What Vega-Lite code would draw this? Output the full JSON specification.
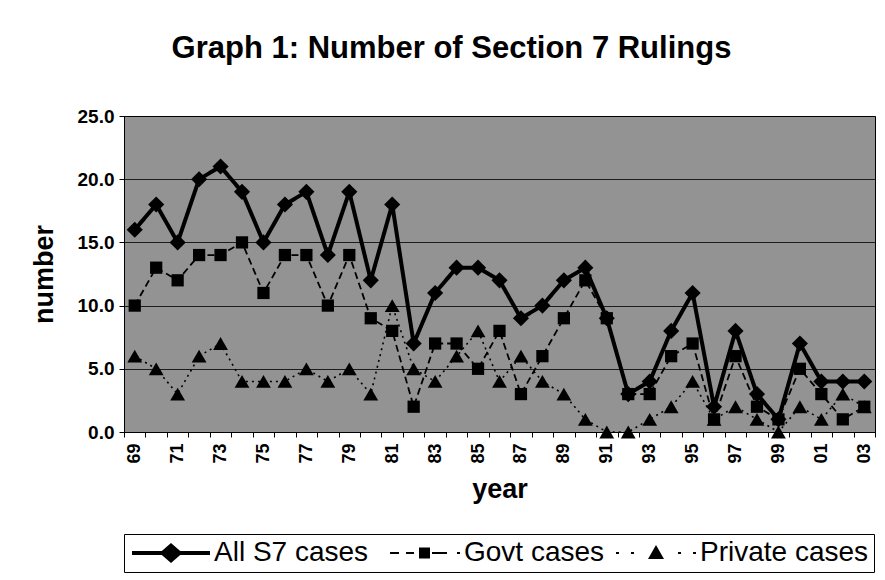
{
  "$schema": "https://vega.github.io/schema/vega-lite/v6.json",
  "width": 751,
  "height": 316,
  "autosize": {"type": "none"},
  "padding": {"left": 124, "top": 116, "right": 10, "bottom": 148},
  "background": "white",
  "title": {
    "text": "Graph 1: Number of Section 7 Rulings",
    "font": "Liberation Sans",
    "fontSize": 31,
    "fontWeight": "bold",
    "color": "black",
    "frame": "group",
    "anchor": "middle",
    "dx": -48,
    "offset": 42
  },
  "config": {
    "view": {"fill": "#939393", "stroke": "black", "strokeWidth": 1},
    "font": "Liberation Sans"
  },
  "data": {
    "values": [
      {"year": "69", "series": "All S7 cases", "value": 16},
      {"year": "70", "series": "All S7 cases", "value": 18},
      {"year": "71", "series": "All S7 cases", "value": 15},
      {"year": "72", "series": "All S7 cases", "value": 20},
      {"year": "73", "series": "All S7 cases", "value": 21},
      {"year": "74", "series": "All S7 cases", "value": 19},
      {"year": "75", "series": "All S7 cases", "value": 15},
      {"year": "76", "series": "All S7 cases", "value": 18},
      {"year": "77", "series": "All S7 cases", "value": 19},
      {"year": "78", "series": "All S7 cases", "value": 14},
      {"year": "79", "series": "All S7 cases", "value": 19},
      {"year": "80", "series": "All S7 cases", "value": 12},
      {"year": "81", "series": "All S7 cases", "value": 18},
      {"year": "82", "series": "All S7 cases", "value": 7},
      {"year": "83", "series": "All S7 cases", "value": 11},
      {"year": "84", "series": "All S7 cases", "value": 13},
      {"year": "85", "series": "All S7 cases", "value": 13},
      {"year": "86", "series": "All S7 cases", "value": 12},
      {"year": "87", "series": "All S7 cases", "value": 9},
      {"year": "88", "series": "All S7 cases", "value": 10},
      {"year": "89", "series": "All S7 cases", "value": 12},
      {"year": "90", "series": "All S7 cases", "value": 13},
      {"year": "91", "series": "All S7 cases", "value": 9},
      {"year": "92", "series": "All S7 cases", "value": 3},
      {"year": "93", "series": "All S7 cases", "value": 4},
      {"year": "94", "series": "All S7 cases", "value": 8},
      {"year": "95", "series": "All S7 cases", "value": 11},
      {"year": "96", "series": "All S7 cases", "value": 2},
      {"year": "97", "series": "All S7 cases", "value": 8},
      {"year": "98", "series": "All S7 cases", "value": 3},
      {"year": "99", "series": "All S7 cases", "value": 1},
      {"year": "00", "series": "All S7 cases", "value": 7},
      {"year": "01", "series": "All S7 cases", "value": 4},
      {"year": "02", "series": "All S7 cases", "value": 4},
      {"year": "03", "series": "All S7 cases", "value": 4},
      {"year": "69", "series": "Govt cases", "value": 10},
      {"year": "70", "series": "Govt cases", "value": 13},
      {"year": "71", "series": "Govt cases", "value": 12},
      {"year": "72", "series": "Govt cases", "value": 14},
      {"year": "73", "series": "Govt cases", "value": 14},
      {"year": "74", "series": "Govt cases", "value": 15},
      {"year": "75", "series": "Govt cases", "value": 11},
      {"year": "76", "series": "Govt cases", "value": 14},
      {"year": "77", "series": "Govt cases", "value": 14},
      {"year": "78", "series": "Govt cases", "value": 10},
      {"year": "79", "series": "Govt cases", "value": 14},
      {"year": "80", "series": "Govt cases", "value": 9},
      {"year": "81", "series": "Govt cases", "value": 8},
      {"year": "82", "series": "Govt cases", "value": 2},
      {"year": "83", "series": "Govt cases", "value": 7},
      {"year": "84", "series": "Govt cases", "value": 7},
      {"year": "85", "series": "Govt cases", "value": 5},
      {"year": "86", "series": "Govt cases", "value": 8},
      {"year": "87", "series": "Govt cases", "value": 3},
      {"year": "88", "series": "Govt cases", "value": 6},
      {"year": "89", "series": "Govt cases", "value": 9},
      {"year": "90", "series": "Govt cases", "value": 12},
      {"year": "91", "series": "Govt cases", "value": 9},
      {"year": "92", "series": "Govt cases", "value": 3},
      {"year": "93", "series": "Govt cases", "value": 3},
      {"year": "94", "series": "Govt cases", "value": 6},
      {"year": "95", "series": "Govt cases", "value": 7},
      {"year": "96", "series": "Govt cases", "value": 1},
      {"year": "97", "series": "Govt cases", "value": 6},
      {"year": "98", "series": "Govt cases", "value": 2},
      {"year": "99", "series": "Govt cases", "value": 1},
      {"year": "00", "series": "Govt cases", "value": 5},
      {"year": "01", "series": "Govt cases", "value": 3},
      {"year": "02", "series": "Govt cases", "value": 1},
      {"year": "03", "series": "Govt cases", "value": 2},
      {"year": "69", "series": "Private cases", "value": 6},
      {"year": "70", "series": "Private cases", "value": 5},
      {"year": "71", "series": "Private cases", "value": 3},
      {"year": "72", "series": "Private cases", "value": 6},
      {"year": "73", "series": "Private cases", "value": 7},
      {"year": "74", "series": "Private cases", "value": 4},
      {"year": "75", "series": "Private cases", "value": 4},
      {"year": "76", "series": "Private cases", "value": 4},
      {"year": "77", "series": "Private cases", "value": 5},
      {"year": "78", "series": "Private cases", "value": 4},
      {"year": "79", "series": "Private cases", "value": 5},
      {"year": "80", "series": "Private cases", "value": 3},
      {"year": "81", "series": "Private cases", "value": 10},
      {"year": "82", "series": "Private cases", "value": 5},
      {"year": "83", "series": "Private cases", "value": 4},
      {"year": "84", "series": "Private cases", "value": 6},
      {"year": "85", "series": "Private cases", "value": 8},
      {"year": "86", "series": "Private cases", "value": 4},
      {"year": "87", "series": "Private cases", "value": 6},
      {"year": "88", "series": "Private cases", "value": 4},
      {"year": "89", "series": "Private cases", "value": 3},
      {"year": "90", "series": "Private cases", "value": 1},
      {"year": "91", "series": "Private cases", "value": 0},
      {"year": "92", "series": "Private cases", "value": 0},
      {"year": "93", "series": "Private cases", "value": 1},
      {"year": "94", "series": "Private cases", "value": 2},
      {"year": "95", "series": "Private cases", "value": 4},
      {"year": "96", "series": "Private cases", "value": 1},
      {"year": "97", "series": "Private cases", "value": 2},
      {"year": "98", "series": "Private cases", "value": 1},
      {"year": "99", "series": "Private cases", "value": 0},
      {"year": "00", "series": "Private cases", "value": 2},
      {"year": "01", "series": "Private cases", "value": 1},
      {"year": "02", "series": "Private cases", "value": 3},
      {"year": "03", "series": "Private cases", "value": 2}
    ]
  },
  "encoding": {
    "x": {
      "field": "year",
      "type": "ordinal",
      "sort": null,
      "scale": {"type": "band", "paddingInner": 0, "paddingOuter": 0},
      "axis": {
        "title": "year",
        "titleFont": "Liberation Sans",
        "titleFontSize": 27,
        "titleFontWeight": "bold",
        "titleColor": "black",
        "titlePadding": 13,
        "labelAngle": -90,
        "labelAlign": "right",
        "labelBaseline": "middle",
        "labelFontSize": 18,
        "labelFontWeight": "bold",
        "labelColor": "black",
        "labelPadding": 6,
        "labelExpr": "indexof(['69','71','73','75','77','79','81','83','85','87','89','91','93','95','97','99','01','03'], datum.value) >= 0 ? datum.value : ''",
        "tickBand": "extent",
        "tickColor": "black",
        "tickSize": 5,
        "domainColor": "black",
        "grid": false
      }
    },
    "y": {
      "field": "value",
      "type": "quantitative",
      "scale": {"domain": [0, 25], "nice": false},
      "axis": {
        "title": "number",
        "titleFont": "Liberation Sans",
        "titleFontSize": 27,
        "titleFontWeight": "bold",
        "titleColor": "black",
        "titlePadding": 19,
        "values": [0, 5, 10, 15, 20, 25],
        "format": ".1f",
        "labelFontSize": 19,
        "labelFontWeight": "bold",
        "labelColor": "black",
        "labelPadding": 5,
        "tickColor": "black",
        "tickSize": 5,
        "domainColor": "black",
        "grid": true,
        "gridColor": "black",
        "gridWidth": 1,
        "gridOpacity": 0.8
      }
    }
  },
  "layer": [
    {
      "mark": {"type": "line", "color": "black"},
      "encoding": {
        "detail": {"field": "series"},
        "strokeDash": {
          "field": "series",
          "scale": {"domain": ["All S7 cases", "Govt cases", "Private cases"], "range": [[1, 0], [7, 4], [2, 4]]},
          "legend": null
        },
        "strokeWidth": {
          "field": "series",
          "type": "nominal",
          "scale": {"type": "ordinal", "domain": ["All S7 cases", "Govt cases", "Private cases"], "range": [4, 1.8, 1.6]},
          "legend": null
        }
      }
    },
    {
      "mark": {"type": "point", "filled": true, "color": "black", "opacity": 1},
      "encoding": {
        "shape": {
          "field": "series",
          "scale": {"domain": ["All S7 cases", "Govt cases", "Private cases"], "range": ["diamond", "square", "triangle-up"]},
          "legend": null
        },
        "size": {
          "field": "series",
          "type": "nominal",
          "scale": {"type": "ordinal", "domain": ["All S7 cases", "Govt cases", "Private cases"], "range": [260, 150, 220]},
          "legend": null
        }
      }
    },
    {
      "mark": {"type": "point", "filled": true, "color": "black", "opacity": 0},
      "encoding": {
        "shape": {
          "field": "series",
          "scale": {
            "domain": ["All S7 cases", "Govt cases", "Private cases"],
            "range": [
              "M-15.6,-0.4L0,-0.4L0,0.4L-15.6,0.4Z M-7.8,-2L-5.5,0L-7.8,2L-10.1,0Z",
              "M-14,-0.2L-12.2,-0.2L-12.2,0.2L-14,0.2Z M-10.8,-0.2L-9.2,-0.2L-9.2,0.2L-10.8,0.2Z M-8.2,-1.1L-6,-1.1L-6,1.1L-8.2,1.1Z M-5.6,-0.2L-2.6,-0.2L-2.6,0.2L-5.6,0.2Z M-0.6,-0.2L0,-0.2L0,0.2L-0.6,0.2Z",
              "M-16,-0.2L-15.4,-0.2L-15.4,0.2L-16,0.2Z M-13,-0.2L-12.4,-0.2L-12.4,0.2L-13,0.2Z M-8,-1.6L-6.4,1.2L-9.6,1.2Z M-3.6,-0.2L-3,-0.2L-3,0.2L-3.6,0.2Z M-0.6,-0.2L0,-0.2L0,0.2L-0.6,0.2Z"
            ]
          },
          "legend": {
            "title": null,
            "orient": "none",
            "legendX": 0,
            "legendY": 418,
            "direction": "horizontal",
            "strokeColor": "black",
            "fillColor": "white",
            "padding": 5,
            "symbolSize": 100,
            "symbolOpacity": 1,
            "symbolFillColor": "black",
            "symbolStrokeColor": "black",
            "symbolStrokeWidth": 0,
            "symbolOffset": 67,
            "labelOffset": -10,
            "labelFont": "Liberation Sans",
            "labelFontSize": 28,
            "labelColor": "black",
            "columnPadding": 10,
            "labelLimit": 300,
            "encode": {
              "symbols": {
                "update": {
                  "size": {"value": 100},
                  "strokeWidth": {"value": 0},
                  "fill": {"value": "black"},
                  "opacity": {"value": 1}
                }
              }
            }
          }
        }
      }
    }
  ],
  "resolve": {"scale": {"shape": "independent"}, "legend": {"shape": "independent"}}
}
